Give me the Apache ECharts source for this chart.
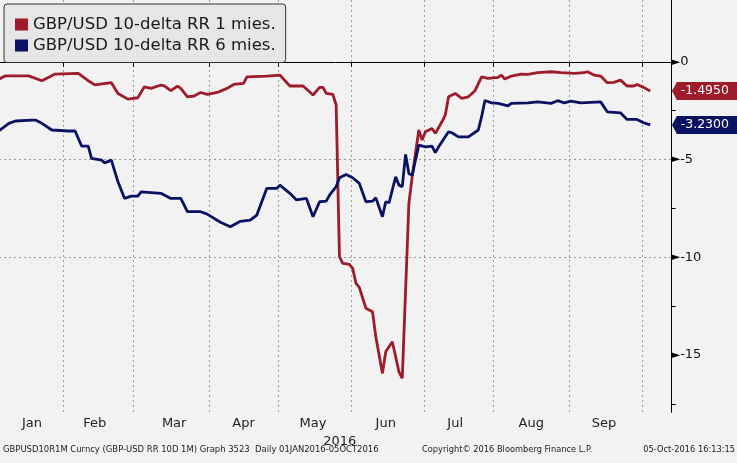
<!DOCTYPE html>
<html><head><meta charset="utf-8">
<script src="https://cdn.jsdelivr.net/npm/echarts@6/dist/echarts.min.js"></script>
<style>html,body{margin:0;padding:0;background:#f2f2f2}#c{width:737px;height:463px}</style>
</head><body><div id="c"></div>
<script>
// ---- data (x = trading-day index counted from 1 Jan 2016, weekdays only) ----
const monthNames = ['Jan','Feb','Mar','Apr','May','Jun','Jul','Aug','Sep'];
const monthStartIdx = [21,42,65,86,108,130,151,174,196];   // first weekday of Feb..Oct
const monthLabelIdx = [11,30,54,75,96,118,139,162,184];
const yLabelValues = [0,-5,-10,-15];
const yMinorTicks = [-2.5,-7.5,-12.5,-17.5];
const name1m = 'GBP/USD 10-delta RR 1 mies.';
const name6m = 'GBP/USD 10-delta RR 6 mies.';
const rr1m = [
 [0,-0.97],[3,-0.72],[10,-0.72],[14,-0.97],[18,-0.63],[25,-0.59],[28,-0.97],[30,-1.18],[35,-1.07],
 [37,-1.62],[40,-1.91],[43,-1.84],[45,-1.28],[47,-1.36],[50,-1.19],[51,-1.23],[53,-1.48],[55,-1.24],
 [56,-1.36],[58,-1.79],[60,-1.75],[62,-1.57],[64,-1.67],[67,-1.57],[70,-1.36],[72,-1.16],[75,-1.10],
 [76,-0.77],[82,-0.73],[86,-0.68],[89,-1.24],[93,-1.24],[96,-1.70],[98,-1.31],[99,-1.31],[100,-1.62],
 [102,-1.67],[103,-2.21],[104,-9.97],[105,-10.31],[107,-10.36],[108,-10.57],[109,-11.33],[110,-11.54],
 [112,-12.61],[114,-12.79],[115,-14.07],[117,-15.94],[118,-14.83],[120,-14.32],[121,-15.09],[122,-15.86],
 [123,-16.19],[125,-7.24],[126,-5.88],[128,-3.49],[129,-4.00],[130,-3.58],[132,-3.41],[133,-3.66],
 [135,-3.07],[136,-2.73],[137,-1.79],[139,-1.62],[141,-1.87],[143,-1.79],[145,-1.48],[147,-0.77],
 [149,-0.85],[152,-0.80],[153,-0.68],[154,-0.88],[156,-0.73],[159,-0.63],[161,-0.64],[164,-0.56],
 [168,-0.51],[171,-0.56],[175,-0.59],[178,-0.56],[179,-0.51],[181,-0.68],[183,-0.73],[185,-1.07],
 [187,-1.05],[189,-0.94],[191,-1.24],[193,-1.24],[194,-1.16],[196,-1.31],[198,-1.495]
];
const rr6m = [
 [0,-3.66],[4,-3.15],[6,-3.03],[11,-2.98],[12,-2.98],[14,-3.15],[17,-3.49],[22,-3.54],[24,-3.53],
 [26,-4.31],[28,-4.31],[29,-4.94],[32,-5.03],[33,-5.17],[35,-5.03],[37,-6.14],[39,-6.99],[41,-6.87],
 [43,-6.87],[44,-6.65],[50,-6.73],[53,-6.99],[56,-6.99],[58,-7.67],[62,-7.67],[64,-7.79],[68,-8.21],
 [71,-8.44],[74,-8.16],[77,-8.10],[79,-7.84],[82,-6.48],[85,-6.48],[86,-6.31],[89,-6.73],[91,-7.07],
 [94,-6.99],[96,-7.93],[98,-7.16],[100,-7.13],[101,-6.82],[103,-6.39],[104,-5.93],[106,-5.76],
 [108,-5.93],[110,-6.22],[112,-7.16],[114,-7.13],[115,-6.96],[117,-7.93],[118,-7.16],[119,-7.21],
 [121,-5.88],[122,-6.31],[123,-6.39],[124,-4.74],[125,-5.71],[126,-5.80],[128,-4.26],[130,-4.35],
 [132,-4.31],[133,-4.65],[134,-4.35],[137,-3.58],[138,-3.63],[140,-3.84],[143,-3.84],[146,-3.49],
 [147,-2.81],[148,-1.98],[150,-2.10],[152,-2.13],[155,-2.25],[156,-2.13],[161,-2.10],[164,-2.05],
 [168,-2.13],[170,-1.99],[172,-2.10],[174,-2.01],[177,-2.10],[183,-2.05],[185,-2.56],[189,-2.61],
 [191,-2.95],[194,-2.95],[196,-3.12],[198,-3.23]
];
const last1m = -1.4950, last6m = -3.2300;
const footerLeft = 'GBPUSD10R1M Curncy (GBP-USD RR 10D 1M) Graph 3523  Daily 01JAN2016-05OCT2016';
const footerMid = 'Copyright\u00A9 2016 Bloomberg Finance L.P.';
const footerRight = '05-Oct-2016 16:13:15';

// categories: weekdays from 1 Jan 2016
const categories = [];
(function(){ const d = new Date(Date.UTC(2016,0,1));
  while (categories.length < 205) { const wd = d.getUTCDay();
    if (wd !== 0 && wd !== 6) categories.push(d.toISOString().slice(0,10));
    d.setUTCDate(d.getUTCDate()+1); } })();

const RED = '#9d1b2b', NAVY = '#0a1262';
const F = 'DejaVu Sans', FC = 'DejaVu Sans Condensed';
const Y_MIN = -17.93, Y_MAX = 3.16;

function tag(color, value) {
  return {
    markLine: { silent: true, symbol: ['none','none'],
      lineStyle: { color: 'rgba(0,0,0,0)', width: 1 },
      label: { show: true, position: 'end', distance: 5, formatter: value.toFixed(4),
        color: '#fff', backgroundColor: color, padding: [3,14,2,4],
        fontFamily: F, fontSize: 12.5, lineHeight: 13, opacity: 1 },
      emphasis: { disabled: true },
      data: [{ yAxis: value }] },
    markPoint: { silent: true, symbol: 'triangle', symbolSize: [18,5], symbolRotate: 90,
      symbolOffset: [4.4,0], itemStyle: { color: color }, label: { show: false },
      data: [{ coord: [categories[categories.length-1], value] }] }
  };
}

const chart = echarts.init(document.getElementById('c'), null, { renderer: 'canvas' });
chart.setOption({
  animation: false,
  backgroundColor: '#f2f2f2',
  grid: { left: -6, top: 0, width: 677.7, height: 412.3, containLabel: false, outerBoundsMode: 'none' },
  legend: {
    orient: 'vertical', left: 4, top: 4, padding: [11.5,10,8,11], itemGap: 3,
    itemWidth: 13, itemHeight: 12, icon: 'rect', selectedMode: false,
    backgroundColor: '#e6e6e6', borderColor: '#333', borderWidth: 1, borderRadius: 3,
    textStyle: { fontFamily: F, fontSize: 16.5, color: '#1a1a1a', lineHeight: 18 },
    data: [name1m, name6m]
  },
  xAxis: {
    type: 'category', data: categories, boundaryGap: true,
    axisLine: { show: true, lineStyle: { color: '#000', width: 1 } },
    axisTick: { show: true, length: 5, interval: (i) => monthStartIdx.includes(i), lineStyle: { color: '#000' } },
    axisLabel: { interval: (i) => monthLabelIdx.includes(i),
      formatter: (v, i) => monthNames[monthLabelIdx.indexOf(i)] || '',
      margin: 5, fontFamily: F, fontSize: 13, color: '#222' },
    splitLine: { show: true, interval: (i) => monthStartIdx.includes(i),
      lineStyle: { color: '#9a9a9a', type: [2,3], width: 1 } },
    name: '2016', nameLocation: 'middle', nameGap: 12,
    nameTextStyle: { fontFamily: F, fontSize: 13, color: '#222', padding: [0,0,0,14] }
  },
  yAxis: [{
    type: 'value', position: 'right', min: Y_MIN, max: Y_MAX, splitNumber: 4,
    axisLine: { show: true, lineStyle: { color: '#000', width: 1 } },
    axisTick: { show: true, customValues: yLabelValues, length: 3, lineStyle: { color: '#000' } },
    axisLabel: { customValues: yLabelValues, margin: 0,
      formatter: (v) => '{t|\u25BA}{v|' + v + '}',
      rich: { t: { fontFamily: F, fontSize: 11, color: '#000' },
              v: { fontFamily: F, fontSize: 13, color: '#111' } } },
    splitLine: { show: true, showMinLine: false, showMaxLine: false,
      lineStyle: { color: '#9a9a9a', type: [2,3], width: 1 } }
  }, {
    type: 'value', position: 'right', offset: 0, min: Y_MIN, max: Y_MAX, splitNumber: 4,
    axisLine: { show: false },
    axisTick: { show: true, customValues: yMinorTicks, length: 4, lineStyle: { color: '#000' } },
    axisLabel: { show: false },
    splitLine: { show: false }
  }],
  series: [
    Object.assign({ name: name1m, type: 'line', data: rr1m, symbol: 'none', showSymbol: false,
      lineStyle: { color: RED, width: 2.8 }, itemStyle: { color: RED } }, tag(RED, last1m)),
    Object.assign({ name: name6m, type: 'line', data: rr6m, symbol: 'none', showSymbol: false,
      lineStyle: { color: NAVY, width: 2.8 }, itemStyle: { color: NAVY } }, tag(NAVY, last6m))
  ],
  graphic: [
    { type: 'text', left: 3, top: 445, style: { text: footerLeft, fontFamily: FC, fontSize: 9.4, fill: '#222' } },
    { type: 'text', left: 422, top: 445, style: { text: footerMid, fontFamily: FC, fontSize: 9.2, fill: '#222' } },
    { type: 'text', right: 2, top: 445, style: { text: footerRight, fontFamily: FC, fontSize: 9.2, fill: '#222' } }
  ]
});
</script></body></html>
